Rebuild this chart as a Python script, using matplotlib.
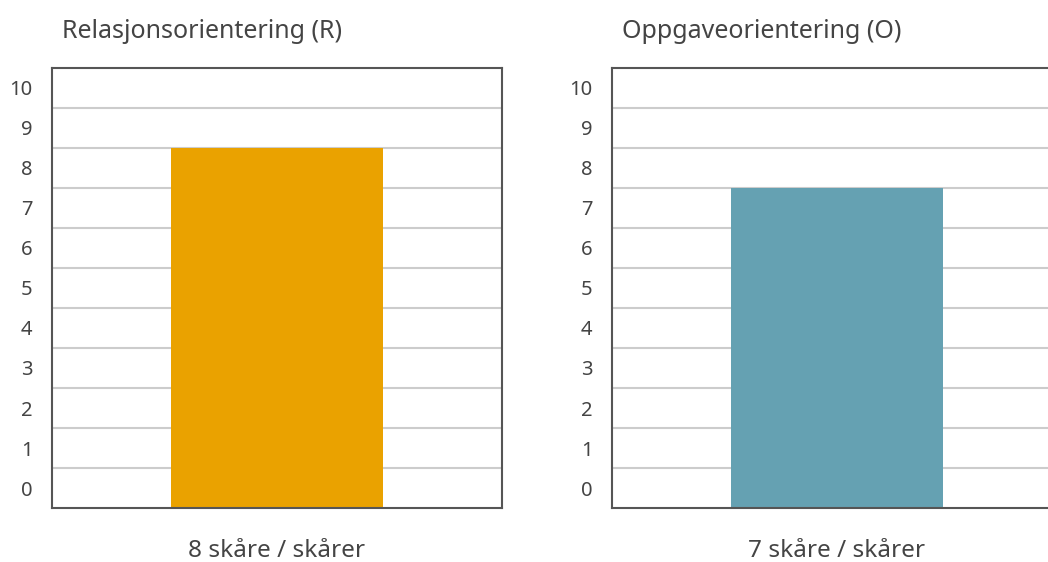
import matplotlib.pyplot as plt

# data
titles = ['Relasjonsorientering (R)', 'Oppgaveorientering (O)']
scores = [8, 7]
xlabels = ['8 skåre / skårer', '7 skåre / skårer']
colors = ['#EAA200', '#65A1B2']
ticks = list(range(0, 11))

plt.rcParams['font.family'] = ['Source Sans Pro', 'Noto Sans', 'DejaVu Sans']
txt = '#444444'

fig = plt.figure(figsize=(10.48, 5.62), dpi=100)
lefts = [52 / 1048, 612 / 1048]

for i in range(2):
    ax = fig.add_axes([lefts[i], 1 - 508 / 562, 450 / 1048, 440 / 562])
    # each score fills its own band, so bar reaches score + 1
    ax.bar([0], [scores[i] + 1], width=0.47, color=colors[i], zorder=2)
    ax.set_xlim(-0.5, 0.5)
    ax.set_ylim(0, 11)
    for g in range(1, 11):
        ax.axhline(g, color='#cccccc', lw=1.5, zorder=1)
    ax.set_yticks([t + 0.5 for t in ticks])
    ax.set_yticklabels([str(t) for t in ticks], fontsize=14.5, color=txt)
    ax.tick_params(axis='y', length=0, pad=14)
    ax.set_xticks([])
    for s in ax.spines.values():
        s.set_color('#555555')
        s.set_linewidth(1.5)
        s.set_zorder(3)
    ax.set_xlabel(xlabels[i], fontsize=17.5, color=txt, labelpad=22)
    ax.text(10 / 450, 1 + 36 / 440, titles[i], transform=ax.transAxes,
            fontsize=18, color=txt, va='center', ha='left')

fig.savefig('out.png', dpi=100)
